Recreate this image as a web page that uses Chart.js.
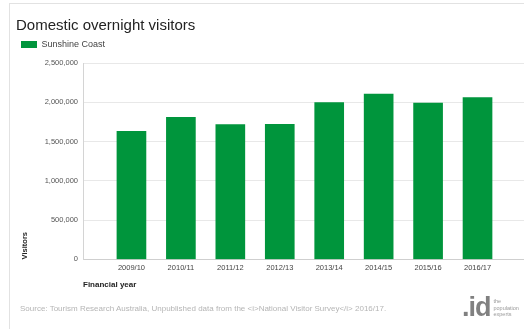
<!DOCTYPE html>
<html>
<head>
<meta charset="utf-8">
<script src="https://cdn.jsdelivr.net/npm/chart.js@4/dist/chart.umd.min.js"></script>
<style>
  html, body { margin: 0; padding: 0; background: #fff; overflow: hidden; }
  #wrap { position: relative; width: 524px; height: 329px; overflow: hidden; font-family: 'Liberation Sans', Arial, sans-serif; }
  #frame { position: absolute; left: 9px; top: 3px; right: -20px; bottom: -20px; border-left: 1px solid #e2e2e2; border-top: 1px solid #e2e2e2; }
  canvas { position: absolute; left: 0; top: 0; }
  #source { position: absolute; left: 20px; top: 304px; font-size: 8px; color: #b5b5b5; white-space: nowrap; }
  #logo { position: absolute; left: 462px; top: 294px; white-space: nowrap; color: #808080; }
  #logo .id { font-size: 27px; font-weight: bold; letter-spacing: -1px; line-height: 27px; display: inline-block; vertical-align: top; }
  #logo .tag { display: inline-block; vertical-align: top; font-size: 5.5px; line-height: 6.5px; margin-left: 3px; margin-top: 4px; color: #999; }
</style>
</head>
<body>
<div id="wrap">
  <div id="frame"></div>
  <canvas id="chart" width="524" height="329"></canvas>
  <div id="source">Source: Tourism Research Australia, Unpublished data from the &lt;i&gt;National Visitor Survey&lt;/i&gt; 2016/17.</div>
  <div id="logo"><span class="id">.id</span><span class="tag">the<br>population<br>experts</span></div>
</div>
<script>
const categories = ['2009/10', '2010/11', '2011/12', '2012/13', '2013/14', '2014/15', '2015/16', '2016/17'];
const visitors = [1630000, 1810000, 1715000, 1720000, 1995000, 2105000, 1990000, 2060000];
const seriesName = 'Sunshine Coast';

const font = "'Liberation Sans', Arial, sans-serif";
Chart.defaults.font.family = font;

// small empty box between the legend and the plot
const legendGap = {
  id: 'legendGap',
  beforeInit(chart) {
    const box = {
      position: 'top', weight: 0, fullSize: true, options: {},
      left: 0, top: 0, right: 0, bottom: 0, width: 0, height: 0,
      isHorizontal() { return true; },
      update(maxWidth) { this.width = maxWidth; this.height = 4; },
      getPadding() { return { top: 0, left: 0, right: 0, bottom: 0 }; },
      draw() {}
    };
    Chart.layouts.addBox(chart, box);
  }
};

const ctx = document.getElementById('chart').getContext('2d');
new Chart(ctx, {
  type: 'bar',
  plugins: [legendGap],
  data: {
    datasets: [{
      label: seriesName,
      data: visitors.map((v, i) => ({ x: i, y: v })),
      backgroundColor: '#00953c',
      borderWidth: 0,
      barThickness: 29
    }]
  },
  options: {
    responsive: false,
    animation: false,
    layout: { padding: { left: 16, right: 0, top: 17, bottom: 39 } },
    plugins: {
      tooltip: { enabled: false },
      title: {
        display: true,
        text: 'Domestic overnight visitors',
        align: 'start',
        color: '#222',
        font: { size: 15, weight: 'normal' },
        padding: { top: 0, bottom: 0 }
      },
      legend: {
        align: 'start',
        labels: {
          boxWidth: 16,
          boxHeight: 7,
          padding: 5,
          color: '#444',
          font: { size: 9 }
        }
      }
    },
    scales: {
      x: {
        type: 'linear',
        min: -0.98,
        max: 7.94,
        offset: false,
        afterBuildTicks: s => { s.ticks = categories.map((c, i) => ({ value: i })); },
        grid: { display: false, offset: false, drawTicks: false, tickLength: 0 },
        border: { display: true, color: '#cfcfcf' },
        ticks: {
          autoSkip: false,
          maxRotation: 0,
          padding: 4,
          color: '#444',
          font: { size: 7.5 },
          callback: v => categories[v] ?? ''
        },
        title: {
          display: true,
          text: 'Financial year',
          align: 'start',
          color: '#222',
          font: { size: 8, weight: 'bold' },
          padding: { top: 4, bottom: 0 }
        }
      },
      y: {
        min: 0,
        max: 2500000,
        afterFit: s => { s.width = 67; },
        grid: {
          drawTicks: false,
          color: ctx => ctx.tick && ctx.tick.value === 0 ? '#cfcfcf' : '#e8e8e8'
        },
        border: { display: true, color: '#d4d4d4' },
        ticks: {
          stepSize: 500000,
          padding: 5,
          color: '#555',
          font: { size: 7.5 },
          callback: v => v.toLocaleString('en-US')
        },
        title: {
          display: true,
          text: 'Visitors',
          align: 'start',
          color: '#222',
          font: { size: 7.5, weight: 'bold' },
          padding: { top: 4, bottom: 0 }
        }
      }
    }
  }
});
</script>
</body>
</html>
